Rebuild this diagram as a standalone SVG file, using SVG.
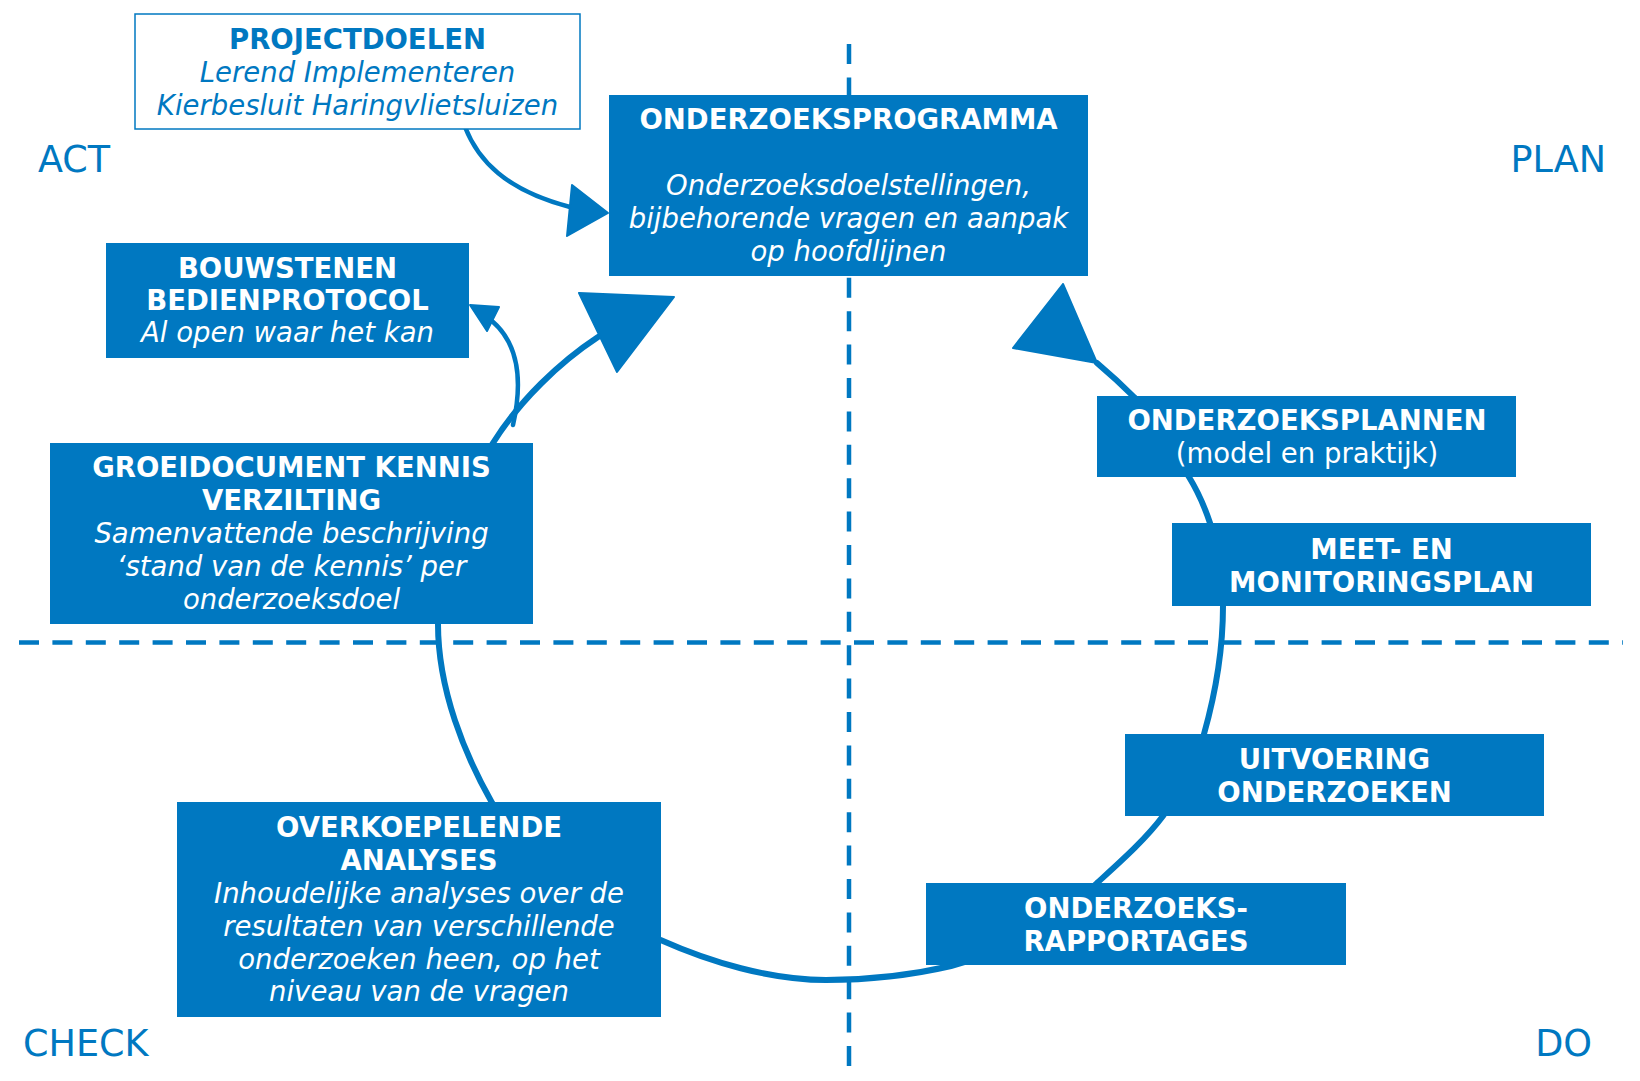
<svg xmlns="http://www.w3.org/2000/svg" width="1640" height="1081" viewBox="0 0 1640 1081">
  <defs>
    <style>
      .bg { fill: #ffffff; }
      .axis { stroke: #0078C1; stroke-width: 4.5; stroke-dasharray: 20 13.4; fill: none; }
      .quad { font-family: "DejaVu Sans", Verdana, sans-serif; font-size: 36.5px; fill: #0078C1; }
      .box { fill: #0078C1; }
      .box-outline { fill: #ffffff; stroke: #0078C1; stroke-width: 1.5; }
      .t { font-family: "DejaVu Sans", Verdana, sans-serif; font-size: 27.5px; fill: #ffffff; text-anchor: middle; }
      .b { font-weight: bold; }
      .i { font-style: italic; }
      .blue { fill: #0078C1; }
      .loop { stroke: #0078C1; stroke-width: 6; fill: none; stroke-linecap: round; }
      .link { stroke: #0078C1; stroke-width: 4.5; fill: none; stroke-linecap: round; }
      .head { fill: #0078C1; stroke: #0078C1; stroke-width: 2; stroke-linejoin: round; }
    </style>
  </defs>

  <rect class="bg" x="0" y="0" width="1640" height="1081"/>

  <!-- quadrant axes -->
  <g id="axes">
    <line class="axis" x1="849" y1="44" x2="849" y2="1070"/>
    <line class="axis" x1="19" y1="642.5" x2="1623" y2="642.5"/>
  </g>

  <!-- quadrant labels -->
  <g id="quadrant-labels">
    <text class="quad" x="38" y="172">ACT</text>
    <text class="quad" x="1606" y="172" text-anchor="end">PLAN</text>
    <text class="quad" x="23" y="1056">CHECK</text>
    <text class="quad" x="1592" y="1056" text-anchor="end">DO</text>
  </g>

  <!-- connectors -->
  <g id="connectors">
    <!-- project goals to research programme -->
    <path class="link" d="M465,127 C478,160 505,190 570,207"/>
    <polygon class="head" points="572,185 608,213 567,236"/>

    <!-- main cycle -->
    <path class="loop" d="M598,337
      C560,362 520,400 493,443
      C470,478 438,560 438,624
      C438,690 465,755 491.6,802
      C530,870 595,915 660.6,940
      C710,962 770,980 826,980
      C870,980 912,975 951,966
      C1005,952 1060,920 1097,883
      C1120,862 1145,840 1163,816
      C1180,792 1195,765 1204,734
      C1215,695 1223,650 1223,606
      C1223,577 1218,548 1210,523
      C1204,505 1197,490 1189,477
      C1173,448 1155,423 1134,397
      C1122,385 1110,374 1097,363"/>
    <polygon class="head" points="579,293 674,297 617,372"/>
    <polygon class="head" points="1063,284 1013,348 1097,363"/>

    <!-- knowledge document to operating protocol -->
    <path class="link" d="M513,425 C522,385 520,345 492,321"/>
    <polygon class="head" points="470,305 499,307 487,331"/>
  </g>

  <!-- nodes -->
  <g id="projectdoelen">
    <rect class="box-outline" x="135" y="14" width="445" height="115"/>
    <text class="t b blue" x="357.5" y="49">PROJECTDOELEN</text>
    <text class="t i blue" x="357.5" y="82">Lerend Implementeren</text>
    <text class="t i blue" x="357.5" y="115">Kierbesluit Haringvlietsluizen</text>
  </g>

  <g id="onderzoeksprogramma">
    <rect class="box" x="609" y="95" width="479" height="181"/>
    <text class="t b" x="848.5" y="129">ONDERZOEKSPROGRAMMA</text>
    <text class="t i" x="848.5" y="195">Onderzoeksdoelstellingen,</text>
    <text class="t i" x="848.5" y="228">bijbehorende vragen en aanpak</text>
    <text class="t i" x="848.5" y="261">op hoofdlijnen</text>
  </g>

  <g id="bouwstenen">
    <rect class="box" x="106" y="243" width="363" height="115"/>
    <text class="t b" x="287.5" y="278">BOUWSTENEN</text>
    <text class="t b" x="287.5" y="310">BEDIENPROTOCOL</text>
    <text class="t i" x="287.5" y="342">Al open waar het kan</text>
  </g>

  <g id="groeidocument">
    <rect class="box" x="50" y="443" width="483" height="181"/>
    <text class="t b" x="291.5" y="476.5">GROEIDOCUMENT KENNIS</text>
    <text class="t b" x="291.5" y="509.5">VERZILTING</text>
    <text class="t i" x="291.5" y="542.5">Samenvattende beschrijving</text>
    <text class="t i" x="291.5" y="575.5">‘stand van de kennis’ per</text>
    <text class="t i" x="291.5" y="608.5">onderzoeksdoel</text>
  </g>

  <g id="onderzoeksplannen">
    <rect class="box" x="1097" y="396" width="419" height="81"/>
    <text class="t b" x="1307" y="430">ONDERZOEKSPLANNEN</text>
    <text class="t" x="1307" y="463">(model en praktijk)</text>
  </g>

  <g id="meetplan">
    <rect class="box" x="1172" y="523" width="419" height="83"/>
    <text class="t b" x="1381.5" y="558.5">MEET- EN</text>
    <text class="t b" x="1381.5" y="591.5">MONITORINGSPLAN</text>
  </g>

  <g id="uitvoering">
    <rect class="box" x="1125" y="734" width="419" height="82"/>
    <text class="t b" x="1334.5" y="768.5">UITVOERING</text>
    <text class="t b" x="1334.5" y="801.5">ONDERZOEKEN</text>
  </g>

  <g id="rapportages">
    <rect class="box" x="926" y="883" width="420" height="82"/>
    <text class="t b" x="1136" y="917.5">ONDERZOEKS-</text>
    <text class="t b" x="1136" y="950.5">RAPPORTAGES</text>
  </g>

  <g id="overkoepelende-analyses">
    <rect class="box" x="177" y="802" width="484" height="215"/>
    <text class="t b" x="419" y="836.5">OVERKOEPELENDE</text>
    <text class="t b" x="419" y="869.5">ANALYSES</text>
    <text class="t i" x="419" y="902.5">Inhoudelijke analyses over de</text>
    <text class="t i" x="419" y="935.5">resultaten van verschillende</text>
    <text class="t i" x="419" y="968.5">onderzoeken heen, op het</text>
    <text class="t i" x="419" y="1001">niveau van de vragen</text>
  </g>
</svg>
